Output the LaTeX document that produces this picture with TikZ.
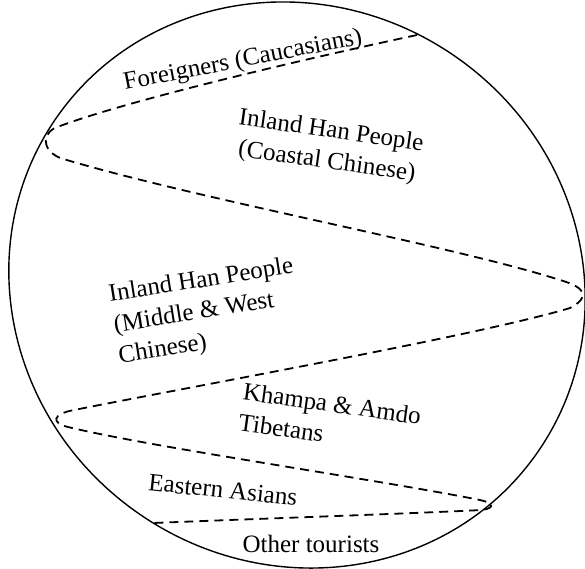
\documentclass[tikz,border=0pt]{standalone}
\usepackage{fontspec}
\setmainfont{Liberation Serif}
\begin{document}
\begin{tikzpicture}[x=1pt,y=-1pt,
  rim/.style={line width=1.4pt},
  divider/.style={line width=1.8pt, dash pattern=on 9pt off 6pt},
  lbl/.style={font=\fontsize{25}{31}\selectfont, inner sep=0pt}]
\useasboundingbox (0,0) rectangle (585,568);
% outer boundary: a slightly tilted oval
\draw[rim] (297,285) ellipse [x radius=293, y radius=278, rotate=-35];
% end points of the dashed boundary on the rim
\coordinate (start) at (417,35);
\coordinate (finish) at (153,523);
% dashed boundary zig-zagging between the groups
\draw[divider] (start)
  .. controls (300,60) and (130,100) .. (60,126)
  .. controls (42,131) and (40,149) .. (60,158)
  .. controls (200,200) and (450,245) .. (560,280)
  .. controls (588,288) and (589,298) .. (570,308)
  .. controls (480,335) and (200,385) .. (74,410)
  .. controls (52,414) and (51,423) .. (68,427)
  .. controls (150,447) and (380,480) .. (480,500)
  .. controls (494,503) and (495,508) .. (482,510)
  .. controls (400,514) and (250,519) .. (finish);
% group labels
\node[lbl, rotate=11] (fore) at (243,61) {Foreigners (Caucasians)};
\node[lbl, rotate=-8, align=center] (coast) at (329,147) {Inland Han People\\(Coastal Chinese)};
\node[lbl, rotate=9, align=left] (mid) at (206,312) {Inland Han People\\(Middle \& West\\Chinese)};
\node[lbl, rotate=-8, align=left] (kham) at (330,419) {Khampa \& Amdo\\Tibetans};
\node[lbl, rotate=-6] (east) at (223,490) {Eastern Asians};
\node[lbl] (other) at (311,544) {Other tourists};
\end{tikzpicture}
\end{document}
